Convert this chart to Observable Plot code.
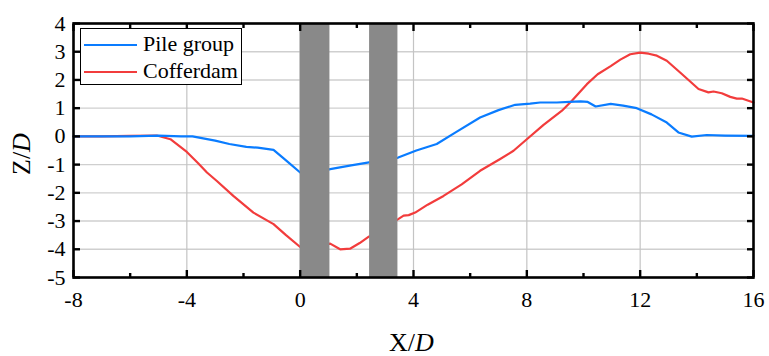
<!DOCTYPE html>
<html>
<head>
<meta charset="utf-8">
<script src="https://cdn.jsdelivr.net/npm/d3@7"></script>
<script src="https://cdn.jsdelivr.net/npm/@observablehq/plot@0.6"></script>
<style>
  body { margin: 0; background: #fff; }
  #wrap { position: relative; width: 769px; height: 356px; font-family: "Liberation Serif", "Times New Roman", serif; }
  #chart svg, #chart svg text { font-family: "Liberation Serif", "Times New Roman", serif !important; }
  #legend { position: absolute; left: 80px; top: 28px; width: 162px; height: 57px; border: 1px solid #000; background: #fff; box-sizing: border-box; }
  .lrow { position: absolute; left: 0; height: 26px; width: 100%; }
  .lsw { position: absolute; left: 3px; width: 53px; top: 12px; height: 0; border-top: 2.4px solid; }
  .ltx { position: absolute; left: 62px; top: -1px; font-size: 22px; line-height: 26px; color: #000; white-space: nowrap; }
  .axt { position: absolute; font-size: 26px; color: #000; white-space: nowrap; line-height: 1; }
</style>
</head>
<body>
<div id="wrap">
  <div id="chart"></div>
  <div id="legend">
    <div class="lrow" style="top:3px"><div class="lsw" id="sw0"></div><div class="ltx" id="lt0"></div></div>
    <div class="lrow" style="top:30px"><div class="lsw" id="sw1"></div><div class="ltx" id="lt1"></div></div>
  </div>
  <div class="axt" id="xtitle" style="left:389px; top:330px;">X/<i>D</i></div>
  <div class="axt" id="ytitle" style="left:-4px; top:136px; transform: rotate(-90deg); transform-origin: 26px 13px;">Z/<i>D</i></div>
</div>
<script>
const seriesNames = ["Pile group", "Cofferdam"];
const seriesColors = ["#0a7cff", "#f23c3c"];

const pileX = [-8, -7, -6, -5, -4.2, -3.8, -3, -2.5, -1.9, -1.5, -0.94, -0.5, 0, 0.3, 1.06, 1.8, 2.43, 3, 3.46, 4.1, 4.82, 5.5, 6.35, 7, 7.59, 8.12, 8.47, 9.06, 9.5, 9.9, 10.15, 10.43, 10.96, 11.4, 11.88, 12.4, 12.94, 13.35, 13.82, 14.35, 15, 16];
const pileZ = [0, 0, 0, 0.03, 0, 0, -0.15, -0.27, -0.37, -0.4, -0.48, -0.85, -1.28, -1.35, -1.16, -1.03, -0.92, -0.85, -0.75, -0.5, -0.27, 0.15, 0.67, 0.93, 1.12, 1.16, 1.2, 1.2, 1.22, 1.24, 1.22, 1.06, 1.15, 1.09, 1.0, 0.78, 0.49, 0.14, -0.01, 0.05, 0.03, 0.02];

const cofX = [-8, -7, -6, -5.06, -4.58, -4.0, -3.6, -3.29, -2.94, -2.36, -1.65, -0.94, -0.5, 0, 0.5, 1.06, 1.41, 1.76, 2.1, 2.41, 3.0, 3.46, 3.65, 3.83, 4.06, 4.5, 5.06, 5.7, 6.35, 7.06, 7.53, 8.0, 8.59, 9.24, 9.59, 10.12, 10.5, 10.96, 11.3, 11.65, 12.0, 12.3, 12.59, 12.94, 13.47, 14.06, 14.41, 14.59, 14.88, 15.18, 15.41, 15.59, 16];
const cofZ = [0, 0, 0.02, 0.03, -0.1, -0.55, -0.95, -1.28, -1.58, -2.11, -2.7, -3.11, -3.5, -3.92, -3.87, -3.8, -4.0, -3.98, -3.78, -3.56, -3.2, -2.93, -2.81, -2.79, -2.7, -2.42, -2.11, -1.7, -1.22, -0.8, -0.51, -0.1, 0.41, 0.91, 1.26, 1.85, 2.2, 2.49, 2.72, 2.91, 2.97, 2.93, 2.86, 2.68, 2.21, 1.68, 1.56, 1.59, 1.53, 1.4, 1.34, 1.34, 1.2];

const pileStart = [0, 2.45];
const pileEnd = [1.05, 3.45];

const xMajor = [-8, -4, 0, 4, 8, 12, 16];
const xMinor = [-6, -2, 2, 6, 10, 14];
const xGrid = [-4, 0, 4, 8, 12];
const yTicks = [-5, -4, -3, -2, -1, 0, 1, 2, 3, 4];

const pileData = pileX.map((x, i) => ({x, z: pileZ[i]}));
const cofData = cofX.map((x, i) => ({x, z: cofZ[i]}));
const piles = pileStart.map((s, i) => ({x1: s, x2: pileEnd[i]}));

const fmt = d => String(d);
const serif = "Liberation Serif";

const chart = Plot.plot({
  width: 769,
  height: 356,
  marginLeft: 73,
  marginRight: 16,
  marginTop: 23,
  marginBottom: 79,
  x: {domain: [-8, 16]},
  y: {domain: [-5, 4]},
  marks: [
    Plot.gridY(yTicks.slice(1, -1), {stroke: "#cfcfcf", strokeOpacity: 1, strokeWidth: 1.4}),
    Plot.gridX(xGrid, {stroke: "#c4c4c4", strokeOpacity: 1, strokeWidth: 1.2}),
    Plot.line(cofData, {x: "x", y: "z", stroke: seriesColors[1], strokeWidth: 2.2}),
    Plot.line(pileData, {x: "x", y: "z", stroke: seriesColors[0], strokeWidth: 2.2}),
    Plot.rect(piles, {x1: "x1", x2: "x2", fill: "#898989"}),
    Plot.axisY({anchor: "left", ticks: yTicks, tickFormat: fmt, tickSize: -7, tickPadding: 15, strokeWidth: 2.4, label: null, fontSize: 22, fontFamily: serif}),
    Plot.axisY({anchor: "right", ticks: yTicks, text: null, tickSize: -7, strokeWidth: 2.4, label: null}),
    Plot.axisX({anchor: "bottom", ticks: xMajor, tickFormat: fmt, tickSize: -7, tickPadding: 21, strokeWidth: 2.4, label: null, fontSize: 22, fontFamily: serif}),
    Plot.axisX({anchor: "bottom", ticks: xMinor, text: null, tickSize: -4, strokeWidth: 2.4, label: null}),
    Plot.axisX({anchor: "top", ticks: xMajor, text: null, tickSize: -7, strokeWidth: 2.4, label: null}),
    Plot.axisX({anchor: "top", ticks: xMinor, text: null, tickSize: -4, strokeWidth: 2.4, label: null}),
    Plot.frame({stroke: "#000", strokeWidth: 2.6})
  ]
});
document.getElementById("chart").appendChild(chart);

// Force the serif face and size inline on every tick label.
chart.querySelectorAll("text").forEach(t => {
  t.style.fontFamily = '"Liberation Serif", "Times New Roman", serif';
  t.style.fontSize = "22px";
  getComputedStyle(t).fontSize;
});

seriesNames.forEach((n, i) => {
  document.getElementById("lt" + i).textContent = n;
  document.getElementById("sw" + i).style.borderTopColor = seriesColors[i];
});
</script>
</body>
</html>
